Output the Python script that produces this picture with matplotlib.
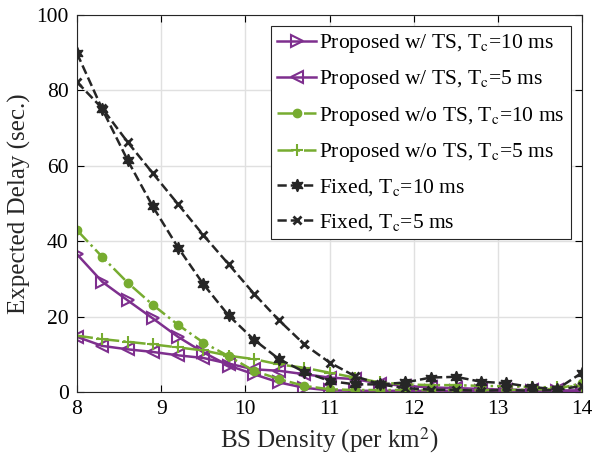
import numpy as np
import matplotlib.pyplot as plt

plt.rcParams['font.family'] = 'Liberation Serif'
plt.rcParams['mathtext.fontset'] = 'stix'

# BS density (per km^2)
density = np.round(np.arange(8.0, 14.01, 0.3), 1)

# expected delay (sec.)
ts_10 = [36.5, 29.2, 24.3, 19.5, 14.6, 10.5, 7.0, 4.7, 2.5, 1.1, 0.4, 0.3, 0.3,
         0.3, 0.3, 0.3, 0.2, 0.2, 0.2, 0.2, 0.2]
ts_5 = [14.6, 12.2, 11.3, 10.6, 9.7, 9.0, 7.5, 6.0, 5.6, 4.7, 3.8, 3.4, 2.2,
        1.6, 1.2, 1.0, 0.8, 0.6, 0.5, 0.4, 0.4]
nots_10 = [42.9, 35.8, 29.0, 23.1, 17.8, 13.1, 9.5, 5.6, 3.4, 1.6, 0.7, 0.5, 0.5,
           0.5, 0.5, 0.5, 0.5, 0.5, 0.6, 0.8, 2.3]
nots_5 = [14.9, 14.0, 13.3, 12.6, 11.8, 11.0, 9.6, 8.7, 7.3, 6.4, 5.1, 3.8, 2.5,
          2.0, 1.8, 1.8, 1.6, 1.5, 1.3, 1.2, 1.6]
fixed_10 = [89.8, 75.0, 61.5, 49.2, 38.3, 28.6, 20.3, 13.9, 8.7, 5.3, 2.9, 2.0, 2.0,
            2.5, 3.8, 4.0, 2.7, 2.3, 1.3, 0.7, 5.1]
fixed_5 = [82.2, 75.2, 66.3, 58.0, 49.8, 41.6, 33.9, 26.1, 19.0, 12.6, 7.8, 4.2, 2.0,
           1.0, 0.6, 0.5, 0.3, 0.5, 0.3, 0.5, 1.6]

labels = [r'Proposed w/ TS, T$_{\rm c}$=10 ms',
          r'Proposed w/ TS, T$_{\rm c}$=5 ms',
          r'Proposed w/o TS, T$_{\rm c}$=10 ms',
          r'Proposed w/o TS, T$_{\rm c}$=5 ms',
          r'Fixed, T$_{\rm c}$=10 ms',
          r'Fixed, T$_{\rm c}$=5 ms']

purple = '#7E2F8E'
green = '#77AC30'
black = '#262626'
hexagram = (6, 1, 0)

fig = plt.figure(figsize=(5.97, 4.66), dpi=100)
ax = fig.add_axes([0.129, 0.159, 0.846, 0.809])

ax.plot(density, ts_10, '-', color=purple, lw=1.8, marker='>', ms=8,
        mfc='none', mew=1.5, label=labels[0])
ax.plot(density, ts_5, '-', color=purple, lw=1.8, marker='<', ms=8,
        mfc='none', mew=1.5, label=labels[1])
ax.plot(density, nots_10, '-.', color=green, lw=1.8, marker='o', ms=6,
        label=labels[2])
ax.plot(density, nots_5, '-.', color=green, lw=1.8, marker='+', ms=9,
        mew=1.5, label=labels[3])
ax.plot(density, fixed_10, '--', color=black, lw=1.8, marker=hexagram, ms=9,
        label=labels[4])
ax.plot(density, fixed_5, '--', color=black, lw=1.8, marker='x', ms=6,
        mew=2, label=labels[5])

ax.set_xlim(8, 14)
ax.set_ylim(0, 100)
ax.set_xticks(range(8, 15))
ax.set_yticks(range(0, 101, 20))
ax.grid(True, color='#e0e0e0', lw=1)
ax.tick_params(direction='in', top=True, right=True, labelsize=15.5, length=5,
               pad=6)
for s in ax.spines.values():
    s.set_color('#262626')
    s.set_linewidth(0.8)

ax.set_xlabel(r'BS Density (per km$^2$)', fontsize=18, color='#262626')
ax.set_ylabel('Expected Delay (sec.)', fontsize=18, color='#262626')

leg = ax.legend(loc='upper right', fontsize=15.5, fancybox=False,
                edgecolor='#262626', framealpha=1, handlelength=1.8,
                handletextpad=0.15, labelspacing=0.62, borderpad=0.3,
                borderaxespad=0.5)
leg.get_frame().set_linewidth(0.8)

fig.savefig('out.png', dpi=100)
